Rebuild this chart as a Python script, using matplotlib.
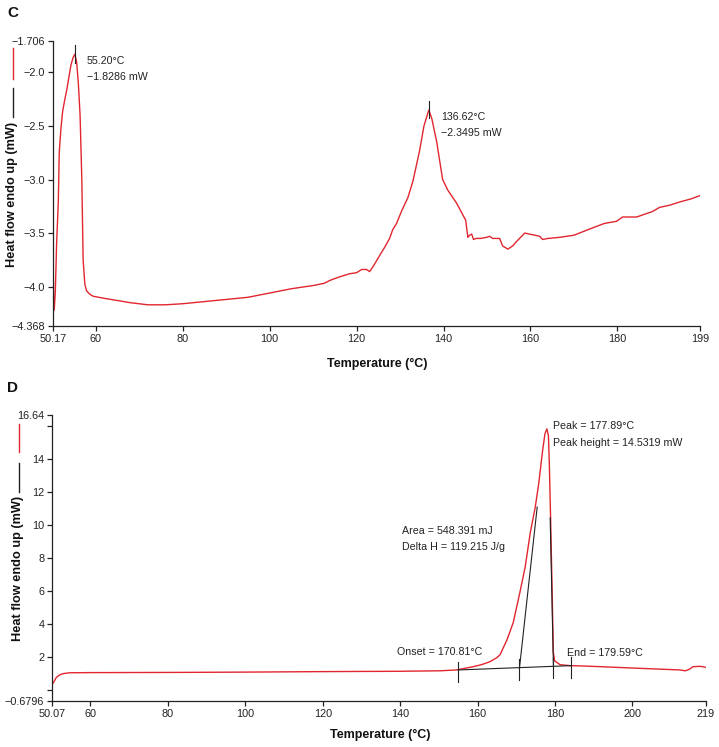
import matplotlib
matplotlib.use("Agg")
import matplotlib.pyplot as plt
from matplotlib.lines import Line2D

plt.rcParams['font.family'] = ['Liberation Sans', 'DejaVu Sans']

# ---------------- Panel C data ----------------
c_temp = [50.17, 50.2, 50.3, 50.45, 50.7, 51.0, 51.4, 51.6, 52.0, 52.4, 52.9, 53.3, 53.8, 54.3, 54.8,
          55.2, 55.6, 56.0, 56.4, 56.8, 57.1, 57.5, 57.9, 58.6, 59.4, 62.0, 65.0, 67.9, 72.0, 76.0,
          80.0, 85.0, 90.0, 95.0, 100.0, 105.0, 110.0, 112.5, 114.0, 116.0, 118.4, 120.0, 121.2,
          122.3, 123.0, 124.0, 125.3, 126.5, 127.6, 128.3, 129.2, 130.4, 131.8, 133.0, 134.5, 135.5,
          136.62, 137.3, 138.4, 139.1, 139.8, 141.0, 143.0, 145.1, 145.6, 146.0, 146.5, 146.9, 147.5,
          148.5, 149.9, 150.6, 151.3, 152.9, 153.6, 154.8, 155.9, 157.0, 158.7, 159.8, 161.0, 162.1,
          162.8, 164.0, 166.7, 170.0, 174.4, 177.0, 179.8, 181.2, 184.4, 188.0, 189.7, 192.0, 194.3,
          197.0, 199.0]
c_flow = [-3.18, -3.75, -4.1, -4.22, -4.05, -3.6, -3.2, -2.75, -2.52, -2.36, -2.25, -2.17, -2.05, -1.93, -1.86,
          -1.8286, -1.9, -2.1, -2.4, -3.0, -3.75, -3.98, -4.04, -4.07, -4.09, -4.11, -4.13, -4.15, -4.17, -4.17,
          -4.16, -4.14, -4.12, -4.10, -4.06, -4.02, -3.99, -3.97, -3.94, -3.91, -3.88, -3.87, -3.84,
          -3.84, -3.86, -3.8, -3.71, -3.63, -3.55, -3.47, -3.41, -3.29, -3.17, -3.01, -2.73, -2.5,
          -2.3495, -2.43, -2.64, -2.82, -3.0, -3.1, -3.22, -3.38, -3.54, -3.52, -3.51, -3.56, -3.55,
          -3.55, -3.54, -3.53, -3.55, -3.55, -3.62, -3.65, -3.62, -3.57, -3.5, -3.51, -3.52, -3.53,
          -3.56, -3.55, -3.54, -3.52, -3.45, -3.41, -3.39, -3.35, -3.35, -3.30, -3.26, -3.24, -3.21,
          -3.18, -3.15]

c_xticks = [50.17, 60, 80, 100, 120, 140, 160, 180, 199]
c_xticklabels = ["50.17", "60", "80", "100", "120", "140", "160", "180", "199"]
c_yticks = [-4.368, -4.0, -3.5, -3.0, -2.5, -2.0, -1.706]
c_yticklabels = ["\u22124.368", "\u22124.0", "\u22123.5", "\u22123.0", "\u22122.5", "\u22122.0", "\u22121.706"]
c_peaks_t = [55.20, 136.62]
c_peaks_txt = [("55.20\u00b0C", "\u22121.8286 mW"), ("136.62\u00b0C", "\u22122.3495 mW")]

# ---------------- Panel D data ----------------
d_temp = [50.07, 50.6, 51.2, 52.1, 53.0, 54.7, 60.0, 80.0, 100.0, 120.0, 129.5, 140.0, 150.3, 154.5,
          158.9, 161.0, 163.2, 165.0, 165.8, 167.6, 169.2, 170.9, 172.3, 173.6, 174.9, 175.8, 176.8,
          177.4, 177.89, 178.3, 178.55, 178.85, 179.3, 179.55, 179.9, 181.3, 183.9, 186.0, 191.7, 198.6,
          205.0, 212.3, 213.6, 214.5, 215.7, 217.5, 219.0]
d_flow = [0.31, 0.5, 0.75, 0.91, 0.98, 1.03, 1.04, 1.05, 1.07, 1.1, 1.11, 1.12, 1.15, 1.2,
          1.4, 1.52, 1.7, 1.95, 2.12, 3.03, 4.06, 5.87, 7.44, 9.5, 11.07, 12.5, 14.5,
          15.5, 15.8, 15.4, 13.5, 10.5, 5.45, 2.3, 1.75, 1.52, 1.46, 1.45, 1.4, 1.33,
          1.27, 1.2, 1.15, 1.22, 1.4, 1.42, 1.36]

d_xticks = [50.07, 60, 80, 100, 120, 140, 160, 180, 200, 219]
d_xticklabels = ["50.07", "60", "80", "100", "120", "140", "160", "180", "200", "219"]
d_yticks = [-0.6796, 0, 2, 4, 6, 8, 10, 12, 14, 16, 16.64]
d_yticklabels = ["\u22120.6796", "", "2", "4", "6", "8", "10", "12", "14", "", "16.64"]

# integration construction (temperature, heat flow)
d_base_t = [155.0, 184.0]
d_base_f = [1.2, 1.46]
d_marks_t = [155.0, 170.81, 179.59, 184.0]
d_tan_left_t = [170.81, 175.4]
d_tan_left_f = [1.3, 11.07]
d_tan_right_t = [179.59, 178.75]
d_tan_right_f = [1.4, 10.4]

RED = '#e1262f'
DARK = '#222222'
W, H = 719, 747

fig = plt.figure(figsize=(W / 100, H / 100), dpi=100)


def px_axes(l, r, t, b):
    return [l / W, 1 - b / H, (r - l) / W, (b - t) / H]


def style(ax, xt, xtl, yt, ytl, xlim, ylim):
    ax.set_xlim(*xlim)
    ax.set_ylim(*ylim)
    for s in ['top', 'right']:
        ax.spines[s].set_visible(False)
    for s in ['left', 'bottom']:
        ax.spines[s].set_color(DARK)
        ax.spines[s].set_linewidth(0.9)
    ax.set_xticks(xt)
    ax.set_xticklabels(xtl)
    ax.set_yticks(yt)
    ax.set_yticklabels(ytl)
    ax.tick_params(axis='both', direction='out', length=3.5, width=0.9, color=DARK,
                   labelsize=7.8, labelcolor=DARK, pad=2)


# ---- Panel C ----
axC = fig.add_axes(px_axes(53, 700, 41, 326))
axC.plot(c_temp, c_flow, color=RED, lw=1.0)
style(axC, c_xticks, c_xticklabels, c_yticks, c_yticklabels, (50.17, 199), (-4.368, -1.706))
c_peak_f = [c_flow[c_temp.index(t)] for t in c_peaks_t]
for t, f, (l1, l2) in zip(c_peaks_t, c_peak_f, c_peaks_txt):
    axC.plot([t, t], [f + 0.085, f - 0.08], color=DARK, lw=0.8)
    axC.text(t + 2.8, f - 0.065, l1, fontsize=7.7, color=DARK, va='center', ha='left')
    axC.text(t + 2.8, f - 0.215, l2, fontsize=7.7, color=DARK, va='center', ha='left')

# ---- Panel D ----
axD = fig.add_axes(px_axes(52, 706, 415, 701))
axD.plot(d_temp, d_flow, color=RED, lw=1.0)
style(axD, d_xticks, d_xticklabels, d_yticks, d_yticklabels, (50.07, 219), (-0.6796, 16.64))
axD.plot(d_base_t, d_base_f, color=DARK, lw=0.8)
axD.plot(d_tan_left_t, d_tan_left_f, color=DARK, lw=0.8)
axD.plot(d_tan_right_t, d_tan_right_f, color=DARK, lw=0.8)
for t in d_marks_t:
    f = d_base_f[0] + (d_base_f[1] - d_base_f[0]) * (t - d_base_t[0]) / (d_base_t[1] - d_base_t[0])
    axD.plot([t, t], [f + 0.5, f - 0.72], color=DARK, lw=0.8)
axD.text(179.5, 15.95, "Peak = 177.89\u00b0C", fontsize=7.7, color=DARK, va='center')
axD.text(179.5, 14.95, "Peak height = 14.5319 mW", fontsize=7.7, color=DARK, va='center')
axD.text(140.5, 9.6, "Area = 548.391 mJ", fontsize=7.7, color=DARK, va='center')
axD.text(140.5, 8.65, "Delta H = 119.215 J/g", fontsize=7.7, color=DARK, va='center')
axD.text(139.2, 2.3, "Onset = 170.81\u00b0C", fontsize=7.7, color=DARK, va='center')
axD.text(183.2, 2.24, "End = 179.59\u00b0C", fontsize=7.7, color=DARK, va='center')

# ---- axis labels, legend-like segments, panel letters ----
def ftext(x, y, s, **kw):
    fig.text(x / W, 1 - y / H, s, **kw)


def fline(x, y0, y1, color):
    fig.add_artist(Line2D([x / W, x / W], [1 - y0 / H, 1 - y1 / H], color=color, lw=1.0,
                          transform=fig.transFigure))


ftext(377, 364, "Temperature (\u00b0C)", fontsize=9, fontweight='bold', ha='center', va='center', color='#111111')
ftext(380, 735, "Temperature (\u00b0C)", fontsize=9, fontweight='bold', ha='center', va='center', color='#111111')
ftext(12, 194, "Heat flow endo up (mW)", fontsize=9.2, fontweight='bold', rotation=90,
      ha='center', va='center', color='#111111')
ftext(18, 568, "Heat flow endo up (mW)", fontsize=9.2, fontweight='bold', rotation=90,
      ha='center', va='center', color='#111111')
fline(13, 48, 79, RED)
fline(13, 88, 117, DARK)
fline(19, 424, 452, RED)
fline(19, 463, 492, DARK)
ftext(7, 13, "C", fontsize=11, fontweight='bold', ha='left', va='center', color='#111111')
ftext(7, 388, "D", fontsize=11, fontweight='bold', ha='left', va='center', color='#111111')

fig.savefig("out.png", dpi=100)
